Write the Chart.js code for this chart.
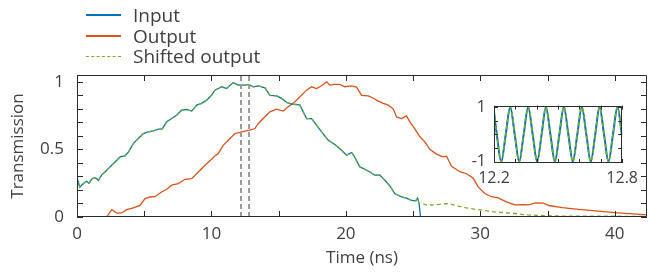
<!DOCTYPE html>
<html>
<head>
<meta charset="utf-8">
<script src="https://cdn.jsdelivr.net/npm/chart.js@4.4.1/dist/chart.umd.min.js"></script>
<style>
body{margin:0;background:#fff;}
#wrap{position:relative;width:648px;height:272px;font-family:"Open Sans",sans-serif;color:#404040;overflow:hidden;}
#mainChart{position:absolute;left:0;top:0;}
#insetChart{position:absolute;left:454px;top:88px;}
#legend{position:absolute;left:86px;top:5px;font-size:19px;}
.row{height:20.5px;display:flex;align-items:center;white-space:nowrap;}
.swatch{width:35px;height:0;margin-right:12px;}
</style>
</head>
<body>
<div id="wrap">
<canvas id="mainChart" width="648" height="272"></canvas>
<canvas id="insetChart" width="190" height="105"></canvas>
<div id="legend"></div>
</div>

<script>

/* Data */

const seriesNames = ["Input", "Output", "Shifted output"];

const inputT = [0, 0.1, 0.2, 0.35, 0.5, 0.72, 0.9, 1.09, 1.3, 1.46, 1.59, 1.83, 2.1, 2.33, 2.6, 2.83, 3.2, 3.57, 3.82, 4.19, 4.56, 4.93, 5.3, 5.68, 6.05, 6.34, 6.67, 7.04, 7.41, 7.78, 8.15, 8.53, 8.9, 9.27, 9.64, 10.01, 10.26, 10.51, 10.76, 11.13, 11.4, 11.62, 11.98, 12.49, 12.74, 13.11, 13.48, 13.98, 14.35, 14.85, 15.22, 15.59, 15.96, 16.3, 16.58, 17.08, 17.45, 17.82, 18.19, 18.69, 19.18, 19.68, 20.05, 20.43, 20.67, 21.04, 21.41, 21.78, 22.15, 22.53, 22.9, 23.27, 23.64, 24.14, 24.51, 24.88, 25.2, 25.33, 25.45, 25.55, 42.4];
const inputV = [0.23, 0.26, 0.22, 0.235, 0.25, 0.264, 0.25, 0.28, 0.29, 0.284, 0.27, 0.31, 0.335, 0.358, 0.385, 0.407, 0.444, 0.452, 0.48, 0.543, 0.58, 0.617, 0.63, 0.637, 0.65, 0.652, 0.704, 0.728, 0.753, 0.79, 0.795, 0.783, 0.827, 0.84, 0.864, 0.9, 0.938, 0.95, 0.963, 0.95, 0.975, 0.995, 0.975, 0.975, 0.98, 0.963, 0.97, 0.955, 0.9, 0.896, 0.877, 0.847, 0.835, 0.832, 0.827, 0.728, 0.728, 0.68, 0.63, 0.568, 0.536, 0.494, 0.457, 0.477, 0.44, 0.37, 0.353, 0.333, 0.309, 0.31, 0.272, 0.23, 0.173, 0.148, 0.14, 0.123, 0.12, 0.14, 0.1, 0, 0];

const outputT = [0, 2.2, 2.58, 2.8, 3.0, 3.32, 3.69, 4.19, 4.68, 5.06, 5.43, 5.8, 6.29, 6.67, 7.04, 7.53, 8.03, 8.53, 9.02, 9.52, 10.01, 10.26, 10.51, 10.88, 11.38, 11.75, 12.12, 12.49, 12.86, 13.23, 13.48, 13.85, 14.35, 14.85, 15.34, 15.71, 16.21, 16.7, 17.08, 17.45, 17.82, 18.19, 18.57, 18.81, 19.18, 19.55, 19.92, 20.43, 20.79, 21.17, 21.66, 22.03, 22.4, 22.78, 23.15, 23.52, 23.77, 24.14, 24.51, 24.76, 25.14, 25.51, 25.88, 26.24, 26.75, 27.2, 27.49, 27.86, 28.48, 28.98, 29.48, 29.84, 30.33, 30.83, 31.33, 31.94, 32.56, 33.2, 33.6, 34.1, 34.7, 35.1, 36.1, 37.3, 38.6, 40, 41.1, 42.4];
const outputV = [0, 0, 0.055, 0.04, 0.028, 0.03, 0.054, 0.067, 0.086, 0.136, 0.148, 0.15, 0.185, 0.205, 0.235, 0.247, 0.279, 0.284, 0.333, 0.383, 0.427, 0.452, 0.47, 0.53, 0.58, 0.617, 0.625, 0.635, 0.642, 0.654, 0.69, 0.728, 0.778, 0.797, 0.783, 0.815, 0.852, 0.9, 0.938, 0.963, 0.95, 0.97, 1.0, 0.975, 0.98, 0.98, 0.963, 0.97, 0.96, 0.9, 0.896, 0.88, 0.857, 0.84, 0.827, 0.8, 0.74, 0.728, 0.748, 0.704, 0.65, 0.593, 0.556, 0.5, 0.465, 0.445, 0.45, 0.375, 0.335, 0.32, 0.286, 0.223, 0.174, 0.15, 0.142, 0.112, 0.09, 0.092, 0.09, 0.104, 0.102, 0.085, 0.07, 0.056, 0.045, 0.032, 0.025, 0.016];

// shifted output: follows the input up to 25.45 ns, then its own tail
const shiftTailT = [25.7, 26.0, 26.62, 27.0, 27.5, 27.74, 28.36, 28.98, 29.6, 30.22, 31.0, 32.4, 33.5, 35.4, 37, 42.4];
const shiftTailV = [0.1, 0.088, 0.09, 0.094, 0.099, 0.096, 0.08, 0.067, 0.057, 0.05, 0.038, 0.028, 0.015, 0.008, 0.006, 0.005];

const markerT = [12.2, 12.8];

const xTickLabels = [0, 10, 20, 30, 40];
const yTickLabels = [0, 0.5, 1];

// inset (zoom 12.2 - 12.8 ns)
const insetT = [12.2, 12.213, 12.234, 12.255, 12.276, 12.297, 12.318, 12.339, 12.36, 12.381, 12.402, 12.423, 12.443, 12.464, 12.485, 12.506, 12.527, 12.548, 12.569, 12.59, 12.611, 12.632, 12.653, 12.674, 12.694, 12.715, 12.736, 12.757, 12.778, 12.8];
const insetIn = [0.83, 0, -1, 0, 1, 0, -1, 0, 1, 0, -1, 0, 1, 0, -1, 0, 1, 0, -1, 0, 1, 0, -1, 0, 1, 0, -1, 0, 1, -0.1];
const insetShift = [0.83, 0, -1, 0, 1, 0, -1, 0, 1, 0, -1, 0, 1, 0, -1, 0, 1, 0, -1, 0, 1, 0, -1, 0, 1, 0, -1, 0, 1, -0.1];
const insetXLabels = [12.2, 12.8];
const insetYLabels = [-1, 1];


/* Colours */

const colors = ["#0072BD", "#D95319", "#77AC30"];
const axisColor = "#2b2b2b";
const textColor = "#404040";
const FONT = "'Open Sans', sans-serif";


function pts(t, v){
return t.map((x,i)=>({x:x, y:v[i]}));
}

const cut = inputT.indexOf(25.45);
const shiftT = inputT.slice(0, cut+1).concat(shiftTailT);
const shiftV = inputV.slice(0, cut+1).concat(shiftTailV);

function near(v, list){
return list.some(l => Math.abs(v - l) < 1e-6);
}


/* Frame + inward ticks on all four sides */

const boxTicks = {
id: "boxTicks",
afterDatasetsDraw(chart, args, opts){
const {ctx, chartArea: a, scales} = chart;
const len = opts.len || 5;
ctx.save();
ctx.strokeStyle = axisColor;
ctx.lineWidth = 1;
ctx.beginPath();
scales.x.ticks.forEach(t => {
const px = Math.round(scales.x.getPixelForValue(t.value)) + 0.5;
ctx.moveTo(px, a.bottom); ctx.lineTo(px, a.bottom - len);
ctx.moveTo(px, a.top); ctx.lineTo(px, a.top + len);
});
scales.y.ticks.forEach(t => {
const py = Math.round(scales.y.getPixelForValue(t.value)) + 0.5;
ctx.moveTo(a.left, py); ctx.lineTo(a.left + len, py);
ctx.moveTo(a.right, py); ctx.lineTo(a.right - len, py);
});
ctx.rect(Math.round(a.left) + 0.5, Math.round(a.top) + 0.5, Math.round(a.width) - 1, Math.round(a.height) - 1);
ctx.stroke();
ctx.restore();
}
};


/* Main chart */

const mainDatasets = [
{ label: seriesNames[2], data: pts(shiftT, shiftV), borderColor: colors[2], borderWidth: 1.3, borderDash: [4,3], order: 0 },
{ label: seriesNames[0], data: pts(inputT, inputV), borderColor: colors[0], borderWidth: 1.3, order: 1 },
{ label: seriesNames[1], data: pts(outputT, outputV), borderColor: colors[1], borderWidth: 1.3, order: 2 }
];

markerT.forEach(m => {
mainDatasets.push({ label: "", data: [{x:m, y:0}, {x:m, y:1.05}], borderColor: "#9a9a9a", borderWidth: 2, borderDash: [5,3], order: -1 });
});

new Chart(document.getElementById("mainChart"), {
type: "line",
data: { datasets: mainDatasets },
options: {
responsive: false,
animation: false,
events: [],
elements: { point: { radius: 0 }, line: { tension: 0, fill: false } },
layout: { padding: { top: 75, right: 1, left: 0, bottom: 0 } },
plugins: { legend: { display: false }, tooltip: { enabled: false }, boxTicks: { len: 6 } },
scales: {
x: {
type: "linear", min: 0, max: 42.4,
grid: { display: false, drawTicks: false },
border: { display: false },
ticks: { stepSize: 5, includeBounds: false, autoSkip: false, maxRotation: 0, padding: 7, color: textColor, font: { family: FONT, size: 17 },
callback: v => near(v, xTickLabels) ? String(Math.round(v)) : "" },
title: { display: true, text: "Time (ns)", color: textColor, font: { family: FONT, size: 17 }, padding: { top: 0, bottom: 4 } },
afterFit: s => { s.height = 55; }
},
y: {
min: 0, max: 1.05,
grid: { display: false, drawTicks: false },
border: { display: false },
ticks: { stepSize: 0.1, includeBounds: false, autoSkip: false, padding: 13, color: textColor, font: { family: FONT, size: 17 },
callback: v => near(v, yTickLabels) ? String(Math.round(v*10)/10) : "" },
title: { display: true, text: "Transmission", color: textColor, font: { family: FONT, size: 17 }, padding: { top: 8, bottom: 0 } },
afterFit: s => { s.width = 77; }
}
}
},
plugins: [boxTicks]
});


/* Inset */

new Chart(document.getElementById("insetChart"), {
type: "line",
data: {
datasets: [
{ label: seriesNames[2], data: pts(insetT, insetShift), borderColor: colors[2], borderWidth: 1.6, borderDash: [4,3], order: 0 },
{ label: seriesNames[0], data: pts(insetT, insetIn), borderColor: colors[0], borderWidth: 2, order: 1 }
]
},
options: {
responsive: false,
animation: false,
events: [],
elements: { point: { radius: 0 }, line: { cubicInterpolationMode: "monotone", fill: false } },
layout: { padding: { top: 5, right: 18, left: 0, bottom: 0 } },
plugins: { legend: { display: false }, tooltip: { enabled: false }, boxTicks: { len: 4 } },
scales: {
x: {
type: "linear", min: 12.2, max: 12.8,
grid: { display: false, drawTicks: false },
border: { display: false },
ticks: { stepSize: 0.1, autoSkip: false, maxRotation: 0, padding: 6, color: textColor, font: { family: FONT, size: 16 },
callback: v => near(v, insetXLabels) ? v.toFixed(1) : "" },
afterFit: s => { s.height = 30; }
},
y: {
min: -1.05, max: 1.05,
grid: { display: false, drawTicks: false },
border: { display: false },
ticks: { stepSize: 0.5, includeBounds: false, autoSkip: false, padding: 8, color: textColor, font: { family: FONT, size: 16 },
callback: v => near(v, insetYLabels) ? String(Math.round(v)) : "" },
afterFit: s => { s.width = 40; }
}
}
},
plugins: [boxTicks]
});


/* Legend */

const legend = document.getElementById("legend");

seriesNames.forEach((name, i) => {
const row = document.createElement("div");
row.className = "row";
const sw = document.createElement("span");
sw.className = "swatch";
sw.style.borderTop = (i === 2 ? "1.5px dashed " : "2px solid ") + colors[i];
const label = document.createElement("span");
label.innerText = name;
row.appendChild(sw);
row.appendChild(label);
legend.appendChild(row);
});

</script>
</body>
</html>
